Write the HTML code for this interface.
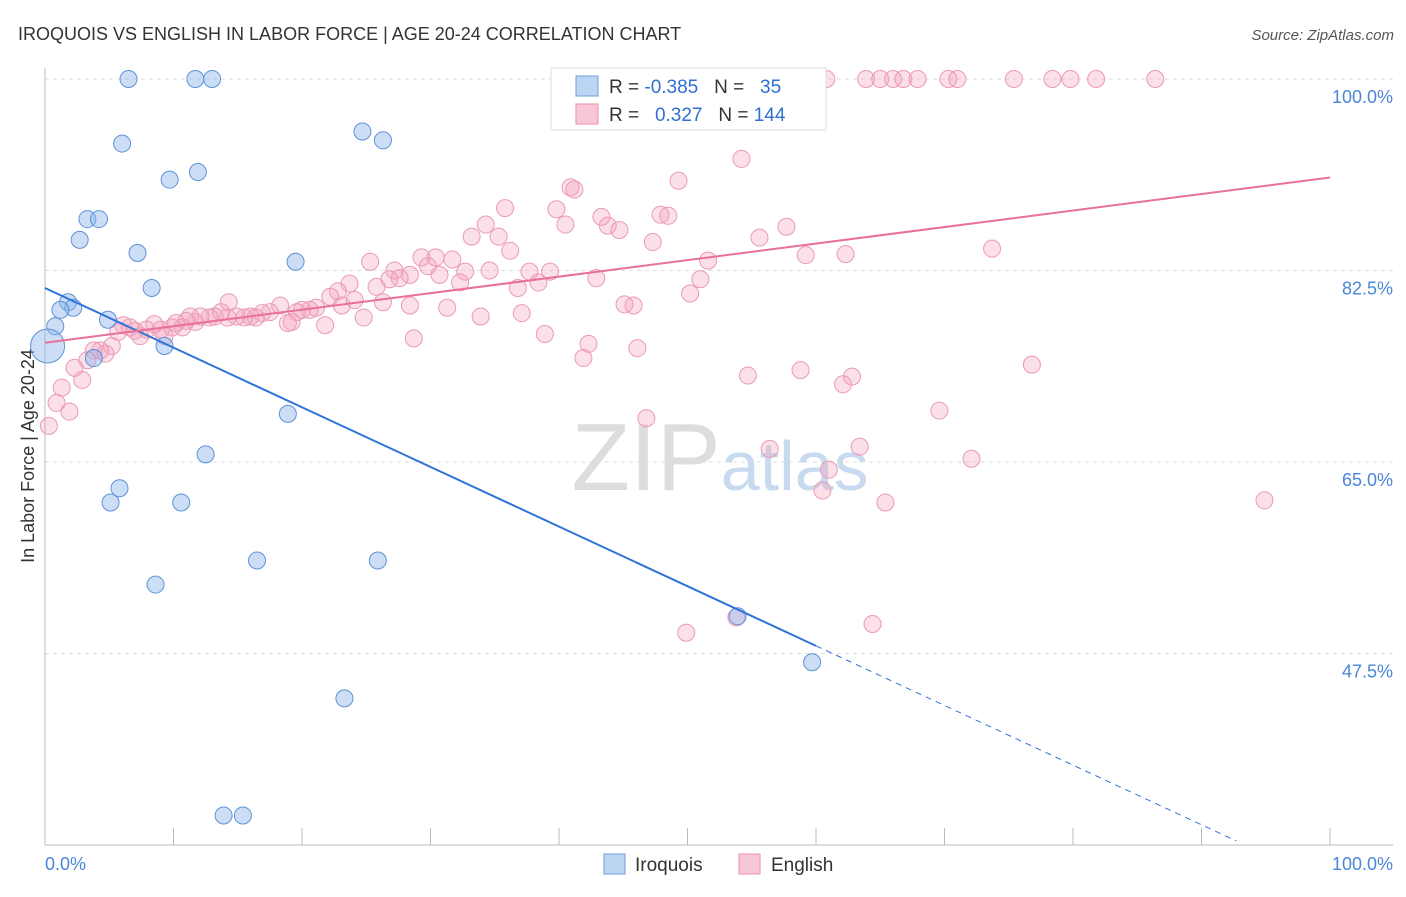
<!DOCTYPE html>
<html><head><meta charset="utf-8"><style>
body{margin:0;background:#fff;font-family:"Liberation Sans",sans-serif}
svg text{font-family:"Liberation Sans",sans-serif}
</style></head><body>
<svg id="chart" width="1406" height="892">
<text x="18" y="40" font-size="18" fill="#333">IROQUOIS VS ENGLISH IN LABOR FORCE | AGE 20-24 CORRELATION CHART</text>
<text x="1394" y="40" font-size="15" fill="#555" text-anchor="end" font-style="italic">Source: ZipAtlas.com</text>
<text x="720" y="490" font-size="96" fill="#ddd" text-anchor="middle" font-family="Liberation Serif">ZIP<tspan fill="#c8daf0" font-family="Liberation Sans" font-size="70">atlas</tspan></text>
<text transform="translate(34,456) rotate(-90)" font-size="18" fill="#333" text-anchor="middle">In Labor Force | Age 20-24</text>
<g id="grid"></g><g id="pts"></g><g id="lines"></g>
<g>
<rect x="551" y="68" width="275" height="62" fill="#fff" stroke="#ddd"/>
<rect x="576" y="76" width="22" height="20" fill="#bcd5f3" stroke="#6e9ed8"/>
<rect x="576" y="104" width="22" height="20" fill="#f8c7d6" stroke="#e892ae"/>
<text x="609" y="93" font-size="19" fill="#333" xml:space="preserve">R = <tspan fill="#2f6fd0">-0.385</tspan>   N =   <tspan fill="#2f6fd0">35</tspan></text>
<text x="609" y="121" font-size="19" fill="#333" xml:space="preserve">R =   <tspan fill="#2f6fd0">0.327</tspan>   N = <tspan fill="#2f6fd0">144</tspan></text>
</g>
<g>
<rect x="604" y="854" width="21" height="20" fill="#bcd5f3" stroke="#6e9ed8"/>
<text x="635" y="871" font-size="19" fill="#333">Iroquois</text>
<rect x="739" y="854" width="21" height="20" fill="#f8c7d6" stroke="#e892ae"/>
<text x="771" y="871" font-size="19" fill="#333">English</text>
</g>
<text x="45" y="870" font-size="18" fill="#4a86d8">0.0%</text>
<text x="1393" y="870" font-size="18" fill="#4a86d8" text-anchor="end">100.0%</text>
</svg>
<script>
const yTicks=[100,82.5,65,47.5];
const xTickVals=[10,20,30,40,50,60,70,80,90,100];
const iroX=[6.5,11.7,13.0,6.0,24.7,26.3,9.7,11.9,3.3,4.2,2.7,7.2,19.5,8.3,1.8,2.2,1.2,0.8,4.9,9.3,0.2,3.8,18.9,12.5,5.8,5.1,10.6,16.5,25.9,8.6,23.3,13.9,15.4,53.9,59.7];
const iroY=[100,100,100,94.1,95.2,94.4,90.8,91.5,87.2,87.2,85.3,84.1,83.3,80.9,79.6,79.1,78.9,77.4,78.0,75.6,75.6,74.5,69.4,65.7,62.6,61.3,61.3,56.0,56.0,53.8,43.4,32.7,32.7,50.9,46.7];
const engX=[52.3,53.7,55.5,56.8,58.8,59.7,60.8,63.9,65.0,66.0,66.8,67.9,70.3,71.0,75.4,78.4,79.8,81.8,86.4,44.1,54.2,49.3,40.9,41.2,35.8,39.8,34.3,43.3,43.8,44.7,47.9,48.5,33.2,35.3,36.2,40.5,47.3,57.7,55.6,62.3,59.2,73.7,51.6,51.0,50.2,42.9,39.3,38.4,37.7,36.8,34.6,32.7,32.3,30.7,29.8,29.3,28.4,30.4,31.7,27.2,27.6,26.8,25.3,25.8,23.7,22.8,22.2,23.1,24.1,24.8,26.3,28.4,31.3,33.9,37.1,38.9,28.7,21.1,20.6,20.0,19.6,19.2,18.9,18.3,17.5,16.9,16.4,16.0,15.5,14.9,14.3,14.2,13.7,13.2,12.8,12.1,11.7,11.3,11.0,10.7,10.2,9.9,9.3,9.0,8.5,7.9,7.4,7.0,6.6,6.1,5.7,5.2,4.7,4.3,3.8,3.3,2.3,2.9,1.3,0.9,1.9,0.3,45.1,45.8,46.1,42.3,41.9,54.7,58.8,62.8,62.1,76.8,69.6,46.8,56.4,63.4,61.0,60.5,65.4,72.1,94.9,49.9,53.8,64.4,21.8];
const engY=[100,100,100,100,100,100,100,100,100,100,100,100,100,100,100,100,100,100,100,98.3,92.7,90.7,90.1,89.9,88.2,88.1,86.7,87.4,86.6,86.2,87.6,87.5,85.6,85.6,84.3,86.7,85.1,86.5,85.5,84.0,83.9,84.5,83.4,81.7,80.4,81.8,82.4,81.4,82.4,80.9,82.5,82.4,81.4,82.1,82.9,83.7,82.1,83.7,83.5,82.5,81.8,81.7,83.3,81.0,81.3,80.6,80.1,79.3,79.8,78.2,79.6,79.3,79.1,78.3,78.6,76.7,76.3,79.1,78.9,78.9,78.7,77.8,77.7,79.3,78.7,78.6,78.2,78.3,78.2,78.3,79.6,78.2,78.7,78.3,78.2,78.3,77.8,78.3,77.9,77.3,77.7,77.3,76.5,77.1,77.6,77.1,76.5,77.0,77.3,77.5,76.9,75.6,74.9,75.2,75.2,74.3,73.6,72.5,71.8,70.4,69.6,68.3,79.4,79.3,75.4,75.8,74.5,72.9,73.4,72.8,72.1,73.9,69.7,69.0,66.2,66.4,64.3,62.4,61.3,65.3,61.5,49.4,50.8,50.2,77.5];
const iroFit=[80.9,-0.545];
const engFit=[75.9,0.151];
const NS='http://www.w3.org/2000/svg';
const X0=45,X1=1330,YT=79,PPU=10.943;
const sx=v=>X0+(X1-X0)*v/100;
const sy=v=>YT+(100-v)*PPU;
function mk(tag,attrs,parent){const e=document.createElementNS(NS,tag);for(const k in attrs)e.setAttribute(k,attrs[k]);parent.appendChild(e);return e;}
const grid=document.getElementById('grid');
yTicks.forEach(t=>{
 const l=mk('line',{x1:45,x2:1393,y1:sy(t),y2:sy(t),stroke:'#ddd','stroke-dasharray':'4,4'},grid);
 
 
 const tx=mk('text',{x:1393,y:sy(t)+24,'font-size':18,fill:'#4a86d8','text-anchor':'end'},grid);
 tx.textContent=t.toFixed(1)+'%';
 
 
});
const ax=mk('line',{x1:45,x2:1393,y1:845,y2:845,stroke:'#bbb'},grid);


const ay=mk('line',{x1:45,x2:45,y1:68,y2:845,stroke:'#bbb'},grid);


xTickVals.forEach(t=>{
 const l=mk('line',{x1:sx(t),x2:sx(t),y1:828,y2:845,stroke:'#bbb'},grid);
 
 
});
const pts=document.getElementById('pts');
engX.forEach((x,i)=>{
 const c=mk('circle',{cx:sx(x),cy:sy(engY[i]),r:8.5,fill:'rgba(244,164,192,0.35)',stroke:'#eb9ab5','stroke-width':1},pts);
 
 
});
iroX.forEach((x,i)=>{
 const big=(i===20);
 const c=mk('circle',{cx:sx(x),cy:sy(iroY[i]),r:big?17:8.5,fill:'rgba(140,182,235,0.45)',stroke:'#5f92d8','stroke-width':1},pts);
 
 
});
const lines=document.getElementById('lines');
const f=(fit,x)=>fit[0]+fit[1]*x;
const bEnd=60;
const b1=mk('line',{x1:sx(0),y1:sy(f(iroFit,0)),x2:sx(bEnd),y2:sy(f(iroFit,bEnd)),stroke:'#2f74d8','stroke-width':2},lines);


const bx2=92.7;
const b2=mk('line',{x1:sx(bEnd),y1:sy(f(iroFit,bEnd)),x2:sx(bx2),y2:sy(f(iroFit,bx2)),stroke:'#2f74d8','stroke-width':1,'stroke-dasharray':'6,5'},lines);


const p1=mk('line',{x1:sx(0),y1:sy(f(engFit,0)),x2:sx(100),y2:sy(f(engFit,100)),stroke:'#e8709a','stroke-width':2},lines);


</script>
</body></html>
